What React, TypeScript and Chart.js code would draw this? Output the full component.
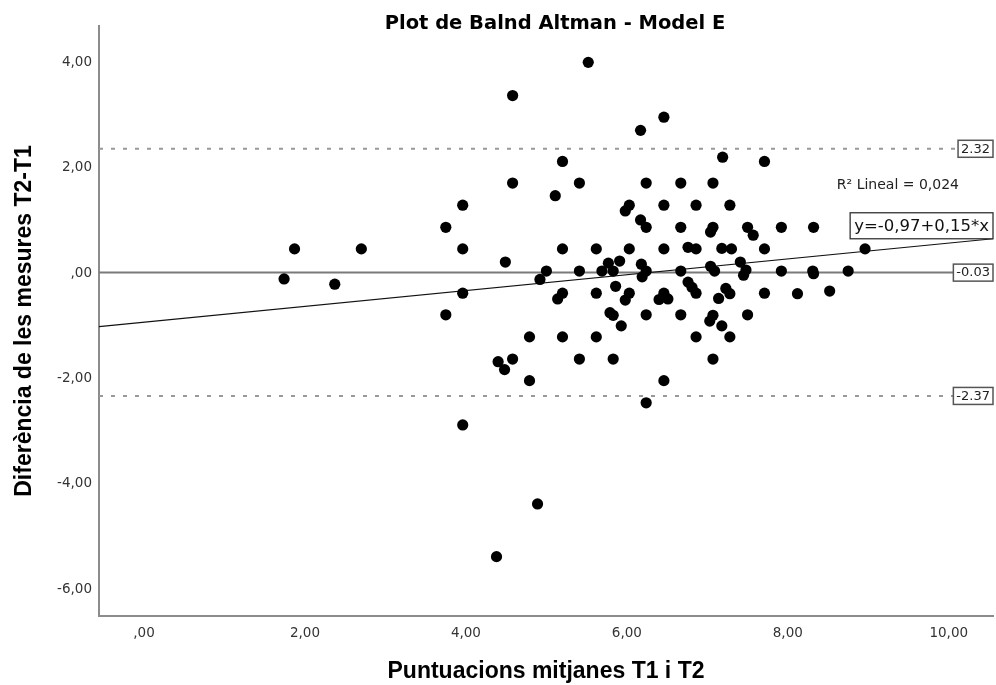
import React, { useEffect, useRef } from "react";
import { Chart, registerables } from "chart.js";

Chart.register(...registerables);

// ---- data ----
const meanX = [
  1.74, 1.87, 2.37, 2.7, 3.75, 3.75, 3.96, 3.96, 3.96, 3.96,
  4.38, 4.4, 4.48, 4.49, 4.58, 4.58, 4.58, 4.79, 4.79, 4.89,
  4.92, 5.0, 5.11, 5.14, 5.2, 5.2, 5.2, 5.2, 5.41, 5.41,
  5.41, 5.52, 5.62, 5.62, 5.62, 5.69, 5.77, 5.79, 5.83, 5.83,
  5.83, 5.86, 5.91, 5.93, 5.98, 5.98, 6.03, 6.03, 6.03, 6.17,
  6.17, 6.18, 6.19, 6.24, 6.24, 6.24, 6.24, 6.24, 6.4, 6.46,
  6.46, 6.46, 6.46, 6.46, 6.51, 6.67, 6.67, 6.67, 6.67, 6.76,
  6.76, 6.81, 6.86, 6.86, 6.86, 6.86, 7.04, 7.04, 7.03, 7.07,
  7.07, 7.09, 7.07, 7.07, 7.14, 7.18, 7.18, 7.19, 7.23, 7.28,
  7.28, 7.28, 7.3, 7.41, 7.45, 7.48, 7.5, 7.5, 7.57, 7.71,
  7.71, 7.71, 7.92, 7.92, 8.12, 8.31, 8.32, 8.32, 8.52, 8.75,
  8.96,
];
const diffY = [
  -0.15, 0.42, -0.25, 0.42, 0.83, -0.83, 1.25, 0.42, -0.42, -2.92,
  -5.42, -1.72, -1.87, 0.17, 3.33, 1.67, -1.67, -1.25, -2.08, -4.42,
  -0.16, 0.0, 1.43, -0.53, 2.08, 0.42, -0.42, -1.25, 1.67, 0.0,
  -1.67, 3.96, 0.42, -0.42, -1.25, 0.0, 0.15, -0.79, -0.84, 0.0,
  -1.67, -0.29, 0.19, -1.04, 1.14, -0.55, 1.25, 0.42, -0.42, 2.67,
  0.97, 0.13, -0.11, 1.67, 0.83, 0.0, -0.83, -2.5, -0.54, 2.92,
  1.25, 0.42, -0.42, -2.08, -0.53, 1.67, 0.83, 0.0, -0.83, 0.45,
  -0.21, -0.31, 1.25, 0.42, -0.42, -1.25, 0.74, 0.09, -0.95, 1.67,
  0.83, 0.0, -0.84, -1.67, -0.52, 0.43, -1.04, 2.16, -0.33, 1.25,
  -0.43, -1.25, 0.42, 0.17, -0.08, 0.02, 0.83, -0.83, 0.68, 2.08,
  0.42, -0.42, 0.83, 0.0, -0.43, 0.0, -0.05, 0.83, -0.38, 0.0,
  0.42,
];

const xTickValues = [0, 2, 4, 6, 8, 10];
const xTickLabels = [",00", "2,00", "4,00", "6,00", "8,00", "10,00"];
const yTickValues = [-6, -4, -2, 0, 2, 4];
const yTickLabels = ["-6,00", "-4,00", "-2,00", ",00", "2,00", "4,00"];
const xRange = [-0.56, 10.55];
const yRange = [-6.546, 4.65];

const meanDiff = -0.03;
const upperLoA = 2.32;
const lowerLoA = -2.37;
const refValues = [upperLoA, meanDiff, lowerLoA];
const refLabels = ["2.32", "-0.03", "-2.37"];
const regIntercept = -0.97;
const regSlope = 0.15;
const regLabel = "y=-0,97+0,15*x";
const r2Label = "R\u00B2 Lineal = 0,024";

const titleText = "Plot de Balnd Altman - Model E";
const xTitle = "Puntuacions mitjanes T1 i T2";
const yTitle = "Diferència de les mesures T2-T1";

const annotPlugin = {
  id: "annot",
  afterDatasetsDraw(chart: any) {
    const { ctx, chartArea, scales } = chart;
    const y = scales.y;
    ctx.save();
    // reference line labels
    ctx.font = "13px 'DejaVu Sans'";
    refValues.forEach((v, i) => {
      const t = refLabels[i];
      const py = y.getPixelForValue(v);
      const w = ctx.measureText(t).width + 6;
      const h = 17;
      const bx = chartArea.right - w;
      ctx.fillStyle = "#ffffff";
      ctx.fillRect(bx, py - h / 2, w, h);
      ctx.strokeStyle = "#555555";
      ctx.lineWidth = 1.5;
      ctx.strokeRect(bx, py - h / 2, w, h);
      ctx.fillStyle = "#222222";
      ctx.textAlign = "center";
      ctx.textBaseline = "middle";
      ctx.fillText(t, bx + w / 2, py + 0.5);
    });
    // regression equation box
    ctx.font = "16.5px 'DejaVu Sans'";
    const ry = y.getPixelForValue(regIntercept + regSlope * xRange[1]);
    const ew = ctx.measureText(regLabel).width + 8;
    const eh = 26;
    const ex = chartArea.right - ew;
    ctx.fillStyle = "#ffffff";
    ctx.fillRect(ex, ry - eh, ew, eh);
    ctx.strokeStyle = "#333333";
    ctx.lineWidth = 1.3;
    ctx.strokeRect(ex, ry - eh, ew, eh);
    ctx.fillStyle = "#111111";
    ctx.textAlign = "center";
    ctx.textBaseline = "middle";
    ctx.fillText(regLabel, ex + ew / 2, ry - eh / 2 + 1);
    // R2 text
    ctx.font = "14px 'DejaVu Sans'";
    ctx.textAlign = "right";
    ctx.fillStyle = "#222222";
    ctx.fillText(r2Label, chartArea.right - 34, 185);
    // title
    ctx.font = "bold 19.5px 'DejaVu Sans'";
    ctx.textAlign = "center";
    ctx.textBaseline = "alphabetic";
    ctx.fillStyle = "#000000";
    ctx.fillText(titleText, 555, 29);
    ctx.restore();
  },
};

export default function App() {
  const ref = useRef<HTMLCanvasElement | null>(null);

  useEffect(() => {
    if (!ref.current) return;
    const points = meanX.map((x, i) => ({ x, y: diffY[i] }));
    const hLine = (v: number) => [
      { x: xRange[0], y: v },
      { x: xRange[1], y: v },
    ];
    const regLine = [
      { x: xRange[0], y: regIntercept + regSlope * xRange[0] },
      { x: xRange[1], y: regIntercept + regSlope * xRange[1] },
    ];
    const chart = new Chart(ref.current, {
      type: "scatter",
      data: {
        datasets: [
          {
            data: points,
            backgroundColor: "#000000",
            borderWidth: 0,
            pointRadius: 5.6,
          },
          {
            data: regLine,
            showLine: true,
            borderColor: "#111111",
            borderWidth: 1.2,
            pointRadius: 0,
          },
          {
            data: hLine(meanDiff),
            showLine: true,
            borderColor: "#7a7a7a",
            borderWidth: 2,
            pointRadius: 0,
          },
          {
            data: hLine(upperLoA),
            showLine: true,
            borderColor: "#999999",
            borderWidth: 2,
            borderDash: [4, 8],
            pointRadius: 0,
          },
          {
            data: hLine(lowerLoA),
            showLine: true,
            borderColor: "#999999",
            borderWidth: 2,
            borderDash: [4, 8],
            pointRadius: 0,
          },
        ],
      },
      options: {
        responsive: false,
        animation: false,
        events: [],
        layout: { autoPadding: false, padding: { top: 26, right: 3, left: 0, bottom: 0 } },
        plugins: {
          legend: { display: false },
          tooltip: { enabled: false },
          title: { display: false },
        },
        scales: {
          x: {
            type: "linear",
            position: "bottom",
            min: xRange[0],
            max: xRange[1],
            afterBuildTicks: (s: any) => {
              s.ticks = xTickValues.map((v) => ({ value: v }));
            },
            afterFit: (s: any) => {
              s.height = 69;
              s.paddingLeft = 0;
              s.paddingRight = 0;
            },
            grid: { display: false, drawTicks: false },
            border: { display: true, color: "#8c8c8c", width: 2 },
            ticks: {
              autoSkip: false,
              maxRotation: 0,
              padding: 9,
              color: "#333333",
              font: { family: "'DejaVu Sans'", size: 13.5 },
              callback: (v: any) => {
                const i = xTickValues.indexOf(Number(v));
                return i >= 0 ? xTickLabels[i] : "";
              },
            },
            title: {
              display: true,
              text: xTitle,
              color: "#000000",
              font: { family: "'Liberation Sans'", weight: "bold", size: 23 },
              padding: { top: 0, bottom: 0 },
            },
          },
          y: {
            type: "linear",
            min: yRange[0],
            max: yRange[1],
            afterBuildTicks: (s: any) => {
              s.ticks = yTickValues.map((v) => ({ value: v }));
            },
            afterFit: (s: any) => {
              s.width = 99;
              s.paddingTop = 0;
              s.paddingBottom = 0;
            },
            grid: { display: false, drawTicks: false },
            border: { display: true, color: "#8c8c8c", width: 2 },
            ticks: {
              autoSkip: false,
              padding: 7,
              labelOffset: 2,
              color: "#333333",
              font: { family: "'DejaVu Sans'", size: 13.5 },
              callback: (v: any) => {
                const i = yTickValues.indexOf(Number(v));
                return i >= 0 ? yTickLabels[i] : "";
              },
            },
            title: {
              display: true,
              text: yTitle,
              color: "#000000",
              font: { family: "'Liberation Sans'", weight: "bold", size: 23 },
              padding: { top: 11, bottom: 0 },
            },
          },
        },
      },
      plugins: [annotPlugin],
    });
    return () => chart.destroy();
  }, []);

  return (
    <div style={{ position: "fixed", left: 0, top: 0, width: 996, height: 685, background: "#ffffff" }}>
      <canvas ref={ref} width={996} height={685} style={{ display: "block" }} />
    </div>
  );
}
